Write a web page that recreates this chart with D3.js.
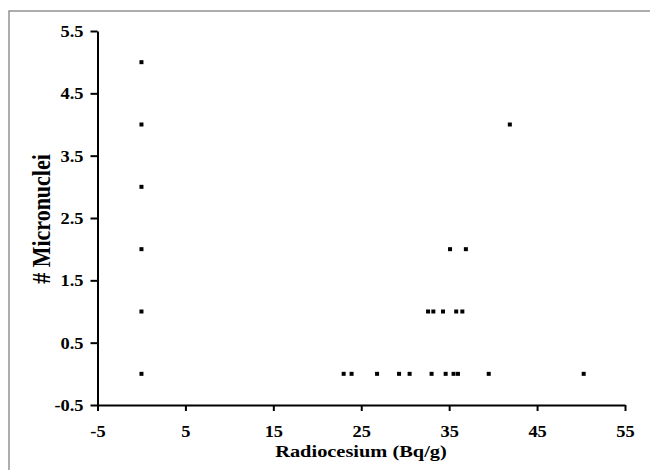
<!DOCTYPE html>
<html><head><meta charset="utf-8">
<script src="https://cdn.jsdelivr.net/npm/d3@7"></script>
<style>body{margin:0;background:#fff}</style>
</head><body>
<svg id="c" width="650" height="470"></svg>
<script>
const xTicks = [-5, 5, 15, 25, 35, 45, 55];
const yTicks = [-0.5, 0.5, 1.5, 2.5, 3.5, 4.5, 5.5];
const radiocesium = [0, 0, 0, 0, 0, 0,
  23.0, 23.9, 26.8, 29.3, 30.5, 33.0, 34.6, 35.5, 36.0, 39.5, 50.3,
  32.6, 33.2, 34.3, 35.8, 36.5,
  35.1, 36.9,
  41.9];
const micronuclei = [0, 1, 2, 3, 4, 5,
  0, 0, 0, 0, 0, 0, 0, 0, 0, 0, 0,
  1, 1, 1, 1, 1,
  2, 2,
  4];

const svg = d3.select("#c");
svg.append("rect").attr("x", 9).attr("y", 11).attr("width", 660).attr("height", 480)
  .attr("fill", "none").attr("stroke", "#777").attr("stroke-width", 1.2);

const x = d3.scaleLinear().domain([-5, 55]).range([97.5, 625]);
const y = d3.scaleLinear().domain([-0.5, 5.5]).range([405, 31]);

const font = "'Liberation Serif','Times New Roman',serif";
const sx = 1.15;

const xa = svg.append("g").attr("transform", "translate(0,405)")
  .call(d3.axisBottom(x).tickValues(xTicks).tickSize(6).tickSizeOuter(0).tickFormat(d => String(d)));
const ya = svg.append("g").attr("transform", "translate(97.5,0)")
  .call(d3.axisLeft(y).tickValues(yTicks).tickSize(7).tickSizeOuter(0).tickFormat(d => d.toFixed(1)));
[xa, ya].forEach(a => {
  a.attr("font-family", font);
  a.select(".domain").attr("stroke", "#000").attr("stroke-width", 2);
  a.selectAll(".tick line").attr("stroke", "#000").attr("stroke-width", 2);
  a.selectAll("text").attr("fill", "#000").style("font-family", font)
    .style("font-weight", "bold").style("font-size", "16px");
});
xa.selectAll("text").attr("dy", "0").attr("y", 32).attr("transform", `scale(${sx},1)`);
ya.selectAll("text").attr("x", -14 / sx).attr("dy", "0.34em").attr("transform", `scale(${sx},1)`);

svg.append("g").selectAll("rect").data(radiocesium).join("rect")
  .attr("x", (d) => x(d) - 2).attr("y", (d, i) => y(micronuclei[i]) - 2)
  .attr("width", 4).attr("height", 4).attr("fill", "#000");

svg.append("text").attr("transform", `translate(361,457) scale(1.2,1)`).attr("text-anchor", "middle")
  .style("font-family", font).style("font-weight", "bold").style("font-size", "17px")
  .text("Radiocesium (Bq/g)");
svg.append("text").attr("transform", `translate(50,219) scale(1.1,1) rotate(-90)`).attr("text-anchor", "middle")
  .style("font-family", font).style("font-weight", "bold").style("font-size", "22px")
  .text("# Micronuclei");
</script>
</body></html>
